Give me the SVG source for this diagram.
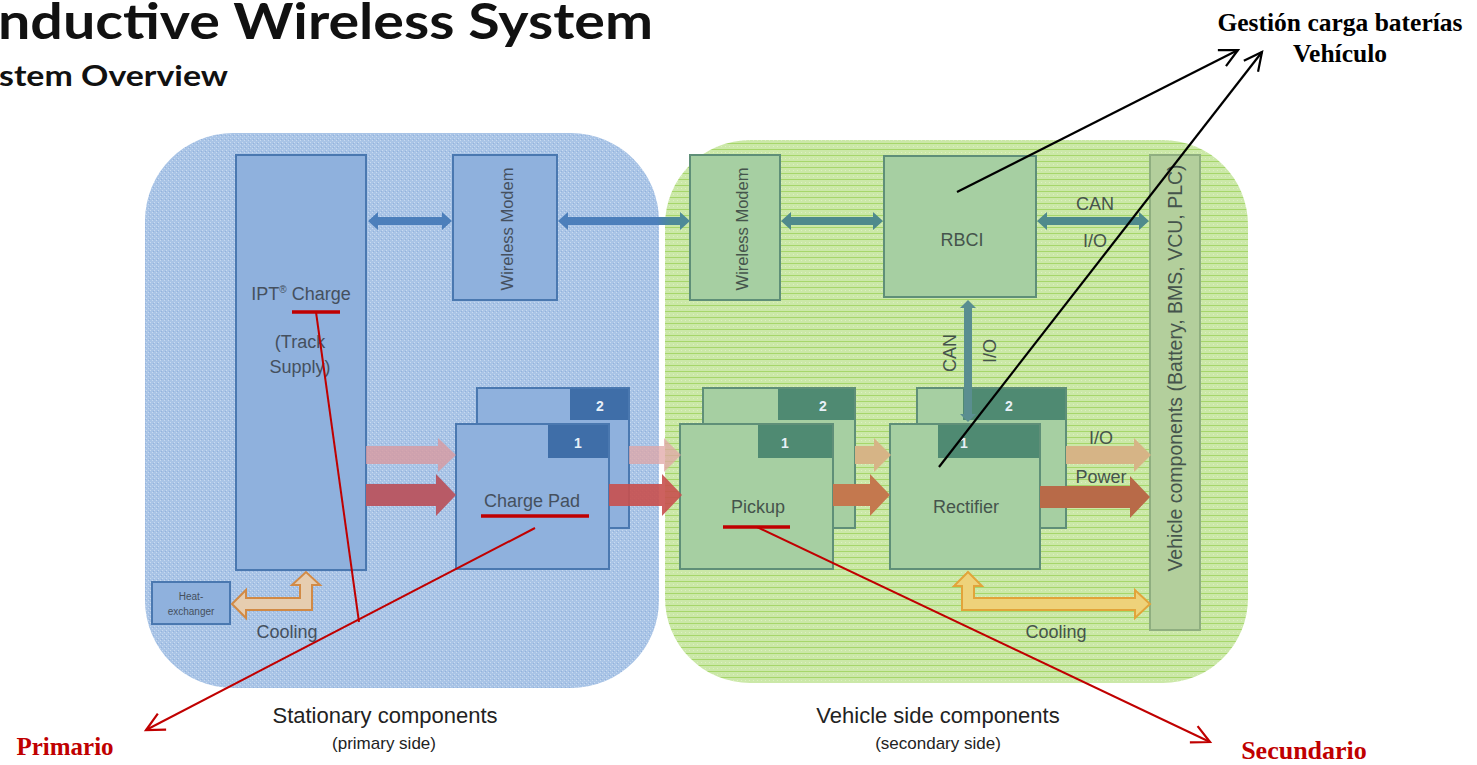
<svg xmlns="http://www.w3.org/2000/svg" width="1477" height="765" viewBox="0 0 1477 765">
<defs>
<pattern id="pBlue" width="4" height="4" patternUnits="userSpaceOnUse">
<rect width="4" height="4" fill="#a9c4e6"/>
<rect x="0" y="0" width="1" height="1" fill="#c8daf0"/>
<rect x="2" y="2" width="1" height="1" fill="#c8daf0"/>
<rect x="1" y="3" width="1" height="1" fill="#93b2dc"/>
</pattern>
<pattern id="pGreen" width="4" height="6" patternUnits="userSpaceOnUse">
<rect width="4" height="6" fill="#cbe8a8"/>
<rect x="0" y="5" width="4" height="1" fill="#a6d66a"/>
<rect x="1" y="2" width="1" height="1" fill="#dcf0c0"/>
</pattern>
<linearGradient id="gLink" x1="0" x2="1" y1="0" y2="0">
<stop offset="0" stop-color="#4c7fbb"/>
<stop offset="0.75" stop-color="#4c7fbb"/>
<stop offset="0.85" stop-color="#4e8a98"/>
<stop offset="1" stop-color="#4e8a98"/>
</linearGradient>
<marker id="mBlack" viewBox="-20 -12 24 24" refX="0" refY="0" markerWidth="24" markerHeight="24" markerUnits="userSpaceOnUse" orient="auto">
<path d="M-18,-9 L0,0 L-18,9" fill="none" stroke="#000" stroke-width="2.2"/>
</marker>
<marker id="mRed" viewBox="-20 -12 24 24" refX="0" refY="0" markerWidth="24" markerHeight="24" markerUnits="userSpaceOnUse" orient="auto">
<path d="M-18,-9 L0,0 L-18,9" fill="none" stroke="#c00000" stroke-width="2.2"/>
</marker>
<style>
.bbox{fill:#8fb1dd;stroke:#4a78b0;stroke-width:2}
.btab{fill:#3f6ea8}
.gbox{fill:#a6cfa2;stroke:#5f8f78;stroke-width:2}
.gtab{fill:#4f8a72}
.tab{font-family:"Liberation Sans",Arial,sans-serif;font-size:14px;font-weight:bold;fill:#e8f0f8;text-anchor:middle}
.bt{font-family:"Liberation Sans",Arial,sans-serif;font-size:18px;fill:#45505e;text-anchor:middle}
.gt{font-family:"Liberation Sans",Arial,sans-serif;font-size:18px;fill:#45544c;text-anchor:middle}
.lab{font-family:"Liberation Sans",Arial,sans-serif;fill:#222;text-anchor:middle}
.ann{font-family:"Liberation Serif","Times New Roman",serif;font-weight:bold;text-anchor:middle}
.red{fill:#c00000}
</style>
</defs>
<rect width="1477" height="765" fill="#ffffff"/>

<g id="title">
<text x="-2" y="39" font-family="Lato,'Open Sans',sans-serif" font-weight="bold" font-size="49" fill="#111" textLength="655" lengthAdjust="spacingAndGlyphs">nductive Wireless System</text>
<text x="-1" y="86" font-family="Lato,'Open Sans',sans-serif" font-weight="bold" font-size="28" fill="#111" textLength="229" lengthAdjust="spacingAndGlyphs">stem Overview</text>
</g>

<g id="panel-primary">
<rect x="145" y="133" width="514" height="555" rx="88" ry="88" fill="url(#pBlue)"/>
</g>
<g id="panel-secondary">
<rect x="665" y="140" width="583" height="543" rx="85" ry="85" fill="url(#pGreen)"/>
</g>

<g id="ipt-charge">
<rect x="236" y="155" width="130" height="415" class="bbox"/>
<text x="301" y="300" class="bt">IPT<tspan style="font-size:10px" dy="-7">®</tspan><tspan dy="7"> Charge</tspan></text>
<text x="300" y="348" class="bt">(Track</text>
<text x="300" y="373" class="bt">Supply)</text>
</g>

<g id="wireless-modem-primary">
<rect x="453" y="155" width="104" height="145" class="bbox"/>
<text transform="translate(513,229) rotate(-90)" class="bt" style="font-size:16.5px">Wireless Modem</text>
</g>

<g id="charge-pad">
<rect x="477" y="388" width="152" height="140" class="bbox"/>
<rect x="570" y="389" width="58" height="31" class="btab"/>
<text x="600" y="411" class="tab">2</text>
<rect x="456" y="424" width="153" height="145" class="bbox"/>
<rect x="548" y="425" width="60" height="33" class="btab"/>
<text x="578" y="448" class="tab">1</text>
<text x="532" y="507" class="bt">Charge Pad</text>
</g>

<g id="heat-exchanger">
<rect x="152" y="582" width="78" height="42" class="bbox"/>
<text x="191" y="600" class="bt" style="font-size:10px">Heat-</text>
<text x="191" y="615" class="bt" style="font-size:10px">exchanger</text>
</g>

<g id="wireless-modem-secondary">
<rect x="690" y="155" width="90" height="145" class="gbox"/>
<text transform="translate(748,229) rotate(-90)" class="gt" style="font-size:16.5px">Wireless Modem</text>
</g>

<g id="rbci">
<rect x="884" y="156" width="152" height="141" class="gbox"/>
<text x="962" y="246" class="gt">RBCI</text>
</g>

<g id="pickup">
<rect x="703" y="388" width="152" height="140" class="gbox"/>
<rect x="778" y="389" width="76" height="31" class="gtab"/>
<text x="823" y="411" class="tab">2</text>
<rect x="680" y="424" width="153" height="145" class="gbox"/>
<rect x="758" y="425" width="74" height="33" class="gtab"/>
<text x="785" y="448" class="tab">1</text>
<text x="758" y="513" class="gt">Pickup</text>
</g>

<g id="rectifier">
<rect x="917" y="388" width="149" height="140" class="gbox"/>
<rect x="963" y="389" width="102" height="31" class="gtab"/>
<text x="1009" y="411" class="tab">2</text>
<rect x="890" y="424" width="150" height="145" class="gbox"/>
<rect x="938" y="425" width="101" height="33" class="gtab"/>
<text x="964" y="448" class="tab">1</text>
<text x="966" y="513" class="gt">Rectifier</text>
</g>

<g id="vehicle-components">
<rect x="1150" y="155" width="50" height="475" fill="#b3cf9c" stroke="#8fae80" stroke-width="2"/>
<text transform="translate(1182,368) rotate(-90)" class="gt" style="font-size:19.5px">Vehicle components (Battery, BMS, VCU, PLC)</text>
</g>

<g id="connectors">
<polygon points="368,221 378,212 378,217 442,217 442,212 452,221 442,230 442,225 378,225 378,230" fill="#4c7fbb"/>
<polygon points="558,221 568,212 568,217 680,217 680,212 690,221 680,230 680,225 568,225 568,230" fill="url(#gLink)"/>
<polygon points="781,221 791,212 791,217 873,217 873,212 883,221 873,230 873,225 791,225 791,230" fill="#4f8a8c"/>
<polygon points="1037,221 1047,212 1047,217 1139,217 1139,212 1149,221 1139,230 1139,225 1047,225 1047,230" fill="#4f8a8c"/>
<polygon points="968,300 976,308 972,308 972,414 976,414 968,422 960,414 964,414 964,308 960,308" fill="#5a8e90"/>
<polygon points="366,446 438,446 438,438 456,455 438,472 438,464 366,464" fill="#d89aa0" opacity="0.8"/>
<polygon points="366,484 436,484 436,474 456,495 436,516 436,506 366,506" fill="#b85a66"/>
<polygon points="629,446 664,446 664,438 681,455 664,472 664,464 629,464" fill="#e0a6a6" opacity="0.75"/>
<polygon points="609,484 662,484 662,474 682,495 662,516 662,506 609,506" fill="#c8504e" opacity="0.9"/>
<polygon points="855,446 874,446 874,438 891,455 874,472 874,464 855,464" fill="#d6b486"/>
<polygon points="833,484 870,484 870,474 890,495 870,516 870,506 833,506" fill="#c4784e"/>
<polygon points="1066,446 1134,446 1134,438 1151,455 1134,472 1134,464 1066,464" fill="#d6b486"/>
<polygon points="1040,486 1130,486 1130,476 1150,497 1130,518 1130,508 1040,508" fill="#b86a48"/>
<polygon points="232,604 246,590 246,598 300,598 300,585 292,585 306,572 320,585 312,585 312,610 246,610 246,618" fill="#e6cdb0" stroke="#d28a45" stroke-width="2"/>
<polygon points="968,572 982,586 974,586 974,598 1135,598 1135,590 1150,604 1135,618 1135,610 962,610 962,586 954,586" fill="#eed27a" stroke="#e2a43a" stroke-width="2"/>
</g>

<g id="connector-labels">
<text x="1095" y="210" class="gt">CAN</text>
<text x="1095" y="247" class="gt">I/O</text>
<text transform="translate(956,353) rotate(-90)" class="gt">CAN</text>
<text transform="translate(996,351) rotate(-90)" class="gt">I/O</text>
<text x="1101" y="444" class="gt">I/O</text>
<text x="1101" y="483" class="gt">Power</text>
<text x="287" y="638" class="bt">Cooling</text>
<text x="1056" y="638" class="gt">Cooling</text>
</g>

<g id="side-labels">
<text x="385" y="723" class="lab" style="font-size:22px">Stationary components</text>
<text x="384" y="749" class="lab" style="font-size:17px">(primary side)</text>
<text x="938" y="723" class="lab" style="font-size:22px">Vehicle side components</text>
<text x="938" y="749" class="lab" style="font-size:17px">(secondary side)</text>
</g>

<g id="annotations">
<line x1="957" y1="192" x2="1238" y2="50" stroke="#000" stroke-width="2.2" marker-end="url(#mBlack)"/>
<line x1="939" y1="467" x2="1262" y2="52" stroke="#000" stroke-width="2.2" marker-end="url(#mBlack)"/>
<text x="1340" y="31" class="ann" style="font-size:25.5px" fill="#000">Gestión carga baterías</text>
<text x="1340" y="62" class="ann" style="font-size:25.5px" fill="#000">Vehículo</text>

<line x1="292" y1="312" x2="340" y2="312" stroke="#c00000" stroke-width="3.5"/>
<line x1="316" y1="312" x2="359" y2="622" stroke="#c00000" stroke-width="2"/>
<line x1="481" y1="516" x2="589" y2="516" stroke="#c00000" stroke-width="3.5"/>
<line x1="535" y1="528" x2="146" y2="730" stroke="#c00000" stroke-width="2" marker-end="url(#mRed)"/>
<line x1="723" y1="527" x2="790" y2="527" stroke="#c00000" stroke-width="3.5"/>
<line x1="757" y1="527" x2="1210" y2="742" stroke="#c00000" stroke-width="2" marker-end="url(#mRed)"/>
<text x="65" y="755" class="ann red" style="font-size:25px">Primario</text>
<text x="1304" y="759" class="ann red" style="font-size:26px">Secundario</text>
</g>
</svg>
